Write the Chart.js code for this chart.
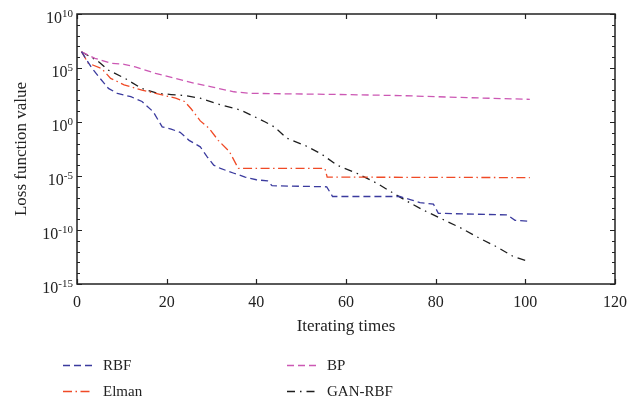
<!DOCTYPE html>
<html>
<head>
<meta charset="utf-8">
<script src="https://cdn.jsdelivr.net/npm/chart.js@4.4.1/dist/chart.umd.min.js"></script>
<style>
  html, body { margin: 0; padding: 0; background: #fff; }
  canvas { display: block; }
</style>
</head>
<body>
<canvas id="c" width="629" height="402"></canvas>
<script>
// ---- Data ----
const rbfIter = [1, 3.3, 5, 7, 9, 12, 14.5, 17, 19, 21, 23, 25, 27.5, 29, 30.5, 32, 35, 37.5, 40, 42.5, 43.5, 55.7, 57, 72, 74.5, 76.5, 79.5, 80.6, 96, 97.7, 101];
const rbfLoss = [3.2e6, 1e5, 1.3e4, 1.3e3, 4.5e2, 2.2e2, 79, 8.9, 0.35, 0.22, 0.11, 2e-2, 5e-3, 6.3e-4, 1e-4, 5e-5, 1.8e-5, 7.9e-6, 4.5e-6, 3.5e-6, 1.26e-6, 1e-6, 1.26e-7, 1.26e-7, 6.3e-8, 3.5e-8, 2.5e-8, 3.5e-9, 2.5e-9, 7.9e-10, 6.3e-10];

const elmanIter = [1, 2.5, 5.5, 7.5, 10.5, 14.5, 19, 22, 24, 25.5, 27.5, 29.5, 31.5, 34, 35.6, 36, 55.3, 55.8, 101];
const elmanLoss = [3.2e6, 2.8e5, 8.9e4, 1.1e4, 2.8e3, 8.9e2, 3.2e2, 1.6e2, 79, 16, 1.26, 0.25, 0.02, 1.8e-3, 1e-4, 5e-5, 5e-5, 7.9e-6, 7.1e-6];

const bpIter = [1, 4, 7.5, 10.5, 13, 17.5, 22, 26.3, 30, 35, 38.6, 57, 72, 87, 101];
const bpLoss = [3.2e6, 7.9e5, 2.8e5, 2.2e5, 1.26e5, 3.2e4, 1.1e4, 3.8e3, 1.8e3, 6.3e2, 4.5e2, 3.6e2, 2.8e2, 1.8e2, 1.26e2];

const ganIter = [1, 4.75, 7, 10.7, 14.4, 18, 21, 24, 27.5, 31.5, 36.5, 39.5, 42, 44, 46.8, 51, 54.5, 58, 62.4, 67, 70, 74.3, 77.2, 81, 85.8, 89.5, 93.6, 97.3, 101];
const ganLoss = [3.2e6, 4e5, 6.3e4, 1.1e4, 1.3e3, 4.5e2, 3.5e2, 2.8e2, 1.6e2, 45, 12.6, 3.2, 1, 0.35, 0.032, 6.3e-3, 1.1e-3, 1e-4, 1.8e-5, 2e-6, 3.5e-7, 3.2e-8, 7.1e-9, 1.26e-9, 1.4e-10, 2e-11, 2.8e-12, 3.5e-13, 1.1e-13];

const xTickLabels = [0, 20, 40, 60, 80, 100, 120];
const yTickExponents = [-15, -10, -5, 0, 5, 10];
const seriesNames = ['RBF', 'BP', 'Elman', 'GAN-RBF'];

const xTitle = 'Iterating times';
const yTitle = 'Loss function value';

// ---- Build datasets ----
function pts(xs, ys) { return xs.map((x, i) => ({ x: x, y: ys[i] })); }

const styles = {
  'RBF':     { color: '#3b3b9e', dash: [7, 4] },
  'BP':      { color: '#cc58b4', dash: [7, 4] },
  'Elman':   { color: '#f04a26', dash: [9, 3.5, 1.5, 3.5] },
  'GAN-RBF': { color: '#1e1e1e', dash: [8, 5, 1.5, 5] }
};
const seriesData = {
  'RBF': pts(rbfIter, rbfLoss),
  'BP': pts(bpIter, bpLoss),
  'Elman': pts(elmanIter, elmanLoss),
  'GAN-RBF': pts(ganIter, ganLoss)
};

const datasets = seriesNames.map(n => ({
  label: n,
  data: seriesData[n],
  borderColor: styles[n].color,
  borderDash: styles[n].dash,
  borderWidth: 1.3,
  pointRadius: 0,
  tension: 0,
  fill: false
}));

const SERIF = '"Liberation Serif", "DejaVu Serif", serif';

const framePlugin = {
  id: 'frame',
  afterDatasetsDraw(chart) {
    const ctx = chart.ctx;
    const xs = chart.scales.x, ys = chart.scales.y;
    const a = chart.chartArea;
    ctx.save();
    ctx.setLineDash([]);
    ctx.strokeStyle = '#222';
    ctx.lineWidth = 1.5;
    ctx.strokeRect(a.left, a.top, a.right - a.left, a.bottom - a.top);

    // x ticks (inward, top and bottom)
    ctx.lineWidth = 1.2;
    ctx.beginPath();
    xTickLabels.forEach(v => {
      const px = Math.round(xs.getPixelForValue(v)) + 0.5;
      ctx.moveTo(px, a.bottom); ctx.lineTo(px, a.bottom - 5);
      ctx.moveTo(px, a.top); ctx.lineTo(px, a.top + 5);
    });
    // y ticks: major every 5 decades, minor every decade
    const eMin = yTickExponents[0], eMax = yTickExponents[yTickExponents.length - 1];
    for (let e = eMin; e <= eMax; e++) {
      const py = Math.round(ys.getPixelForValue(Math.pow(10, e))) + 0.5;
      const len = yTickExponents.includes(e) ? 5 : 3;
      ctx.moveTo(a.left, py); ctx.lineTo(a.left + len, py);
      ctx.moveTo(a.right, py); ctx.lineTo(a.right - len, py);
    }
    ctx.stroke();

    // x tick labels
    ctx.fillStyle = '#222';
    ctx.font = '16px ' + SERIF;
    ctx.textAlign = 'center';
    ctx.textBaseline = 'alphabetic';
    xTickLabels.forEach(v => {
      ctx.fillText(String(v), xs.getPixelForValue(v), a.bottom + 23);
    });

    // y tick labels 10^e
    yTickExponents.forEach(e => {
      const py = ys.getPixelForValue(Math.pow(10, e));
      const expStr = String(e);
      ctx.font = '11px ' + SERIF;
      ctx.textAlign = 'right';
      const rx = a.left - 4;
      ctx.fillText(expStr, rx, py + 3);
      const ew = ctx.measureText(expStr).width;
      ctx.font = '16px ' + SERIF;
      ctx.fillText('10', rx - ew, py + 9);
    });

    // axis titles
    ctx.font = '17px ' + SERIF;
    ctx.textAlign = 'center';
    ctx.fillText(xTitle, (a.left + a.right) / 2, a.bottom + 47);
    ctx.save();
    ctx.translate(22, (a.top + a.bottom) / 2);
    ctx.rotate(-Math.PI / 2);
    ctx.textBaseline = 'middle';
    ctx.fillText(yTitle, 0, 0);
    ctx.restore();

    // legend (2 x 2)
    const cols = [63, 287], rows = [365, 391];
    chart.data.datasets.forEach((ds, i) => {
      const cx = cols[i % 2], cy = rows[Math.floor(i / 2)];
      ctx.save();
      ctx.strokeStyle = ds.borderColor;
      ctx.lineWidth = 1.5;
      ctx.setLineDash(ds.borderDash);
      ctx.beginPath();
      ctx.moveTo(cx, cy + 0.5); ctx.lineTo(cx + 29, cy + 0.5);
      ctx.stroke();
      ctx.restore();
      ctx.fillStyle = '#222';
      ctx.font = '15px ' + SERIF;
      ctx.textAlign = 'left';
      ctx.textBaseline = 'middle';
      ctx.fillText(ds.label, cx + 40, cy + 1);
    });
    ctx.restore();
  }
};

new Chart(document.getElementById('c'), {
  type: 'line',
  data: { datasets: datasets },
  options: {
    responsive: false,
    animation: false,
    devicePixelRatio: 1,
    layout: { padding: { left: 77, right: 14, top: 14, bottom: 118 } },
    plugins: { legend: { display: false }, tooltip: { enabled: false } },
    scales: {
      x: { type: 'linear', min: 0, max: 120, display: false },
      y: { type: 'logarithmic', min: 1e-15, max: 1e10, display: false }
    }
  },
  plugins: [framePlugin]
});
</script>
</body>
</html>
